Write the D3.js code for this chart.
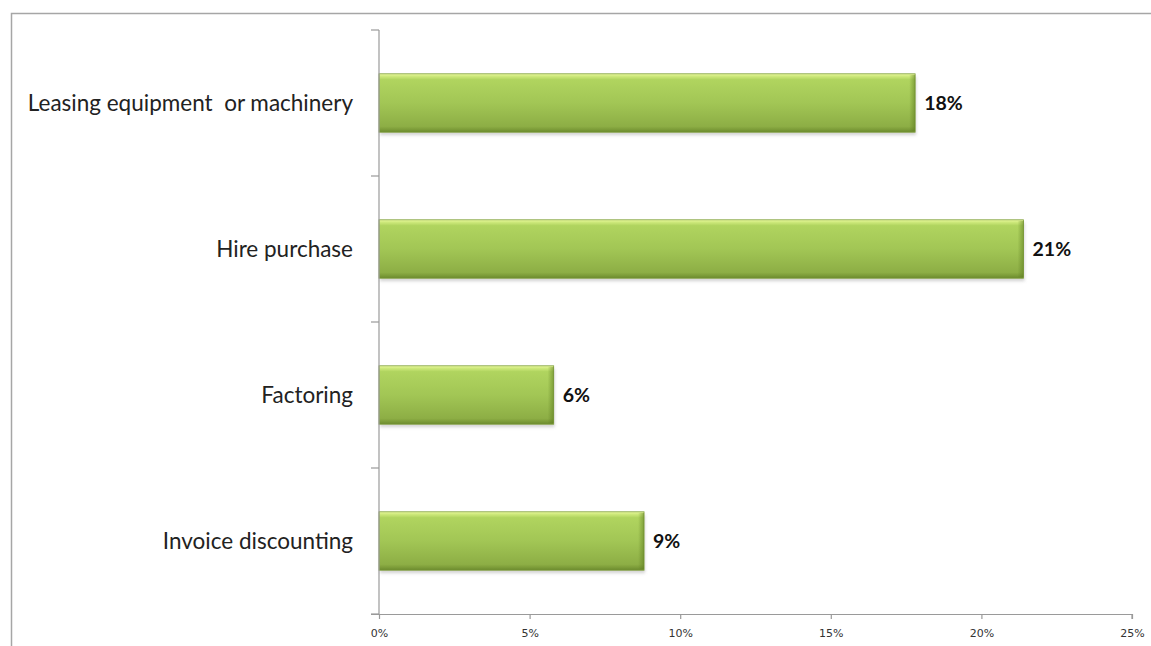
<!DOCTYPE html>
<html>
<head>
<meta charset="utf-8">
<script src="https://cdn.jsdelivr.net/npm/d3@7"></script>
<style>
  html, body { margin: 0; padding: 0; background: #fff; }
  svg { display: block; }
  .cat { white-space: pre; }
</style>
</head>
<body>
<svg id="chart" width="1151" height="646"></svg>
<script>
// Financing methods used (share of respondents)
const categories = ["Leasing equipment  or machinery", "Hire purchase", "Factoring", "Invoice discounting"];
const values = [0.178, 0.214, 0.058, 0.088];
const tickValues = [0, 0.05, 0.10, 0.15, 0.20, 0.25];

const svg = d3.select("#chart");
const W = 1151, H = 646;
const margin = { left: 379, right: 19, top: 30, bottom: 32 };
const plotBottom = H - margin.bottom;

// Outer chart frame (runs past the right and bottom edges)
svg.append("rect")
  .attr("x", 11.5).attr("y", 13.5)
  .attr("width", W).attr("height", H)
  .attr("fill", "none").attr("stroke", "#a6a6a6").attr("stroke-width", 1.5);

const x = d3.scaleLinear().domain([0, 0.25]).range([margin.left, 1132]);
const y = d3.scaleBand().domain(categories).range([margin.top, plotBottom]).paddingInner(0.6).paddingOuter(0.3);

const defs = svg.append("defs");
const grad = defs.append("linearGradient").attr("id", "barFill")
  .attr("x1", 0).attr("y1", 0).attr("x2", 0).attr("y2", 1);
[[0, "#eaf7a2"], [0.04, "#cfea7c"], [0.1, "#b0d45f"], [0.5, "#a2c655"], [0.9, "#8dae45"], [0.96, "#7a9a37"], [1, "#6a882d"]]
  .forEach(([o, c]) => grad.append("stop").attr("offset", o).attr("stop-color", c));
const edge = defs.append("linearGradient").attr("id", "edgeFill")
  .attr("x1", 0).attr("y1", 0).attr("x2", 1).attr("y2", 0);
[[0, "rgba(90,120,30,0)"], [1, "rgba(90,120,30,0.55)"]]
  .forEach(([o, c]) => edge.append("stop").attr("offset", o).attr("stop-color", c));
const blur = defs.append("filter").attr("id", "shadow").attr("x", "-5%").attr("y", "-20%").attr("width", "110%").attr("height", "150%");
blur.append("feGaussianBlur").attr("stdDeviation", 1.6);

const bars = svg.append("g").selectAll("g").data(categories).join("g");

// soft drop shadow
bars.append("rect")
  .attr("x", x(0) + 1)
  .attr("y", d => y(d) + 3)
  .attr("width", (d, i) => x(values[i]) - x(0))
  .attr("height", y.bandwidth())
  .attr("fill", "#b8b8b8").attr("opacity", 0.6)
  .attr("filter", "url(#shadow)");

bars.append("rect")
  .attr("x", x(0))
  .attr("y", d => y(d))
  .attr("width", (d, i) => x(values[i]) - x(0))
  .attr("height", y.bandwidth())
  .attr("fill", "url(#barFill)")
  .attr("stroke", "#7f9f3a").attr("stroke-width", 0.8);

// darker right bevel
bars.append("rect")
  .attr("x", (d, i) => x(values[i]) - 6)
  .attr("y", d => y(d) + 1)
  .attr("width", 6)
  .attr("height", y.bandwidth() - 2)
  .attr("fill", "url(#edgeFill)");

// value labels
bars.append("text")
  .attr("x", (d, i) => x(values[i]) + 9)
  .attr("y", d => y(d) + y.bandwidth() / 2)
  .attr("dy", "0.36em")
  .attr("font-family", "Lato, 'Open Sans', sans-serif")
  .attr("font-weight", "bold")
  .attr("font-size", 19.5)
  .attr("fill", "#111")
  .text((d, i) => d3.format(".0%")(values[i]));

// Category axis
const yAxisScale = d3.scalePoint().domain(d3.range(categories.length + 1)).range([margin.top, plotBottom]);
const yAxis = svg.append("g");
yAxis.append("line")
  .attr("x1", x(0)).attr("x2", x(0))
  .attr("y1", margin.top).attr("y2", plotBottom)
  .attr("stroke", "#9a9a9a").attr("stroke-width", 1.2);
yAxis.selectAll("line.tick").data(yAxisScale.domain()).join("line")
  .attr("class", "tick")
  .attr("x1", x(0) - 8).attr("x2", x(0))
  .attr("y1", d => yAxisScale(d)).attr("y2", d => yAxisScale(d))
  .attr("stroke", "#9a9a9a").attr("stroke-width", 1.2);
yAxis.selectAll("text").data(categories).join("text")
  .attr("class", "cat")
  .attr("x", 353)
  .attr("y", d => y(d) + y.bandwidth() / 2)
  .attr("dy", "0.36em")
  .attr("text-anchor", "end")
  .attr("font-family", "Lato, 'Open Sans', sans-serif")
  .attr("font-size", 22.5)
  .attr("fill", "#222")
  .text(d => d);

// Value axis
const xAxis = svg.append("g")
  .attr("transform", `translate(0,${plotBottom})`)
  .call(d3.axisBottom(x).tickValues(tickValues).tickFormat(d3.format(".0%")).tickSize(5).tickPadding(10));
xAxis.select(".domain").attr("stroke", "#9a9a9a").attr("stroke-width", 1.2)
  .attr("d", `M${x(0) - 8},0.5V0.5H${x(0.25)}V5`);
xAxis.selectAll(".tick line").attr("stroke", "#9a9a9a").attr("stroke-width", 1.2).attr("y1", 0);
xAxis.selectAll(".tick text")
  .attr("font-family", "'DejaVu Sans', Verdana, sans-serif")
  .attr("font-size", 11)
  .attr("fill", "#333");
</script>
</body>
</html>
